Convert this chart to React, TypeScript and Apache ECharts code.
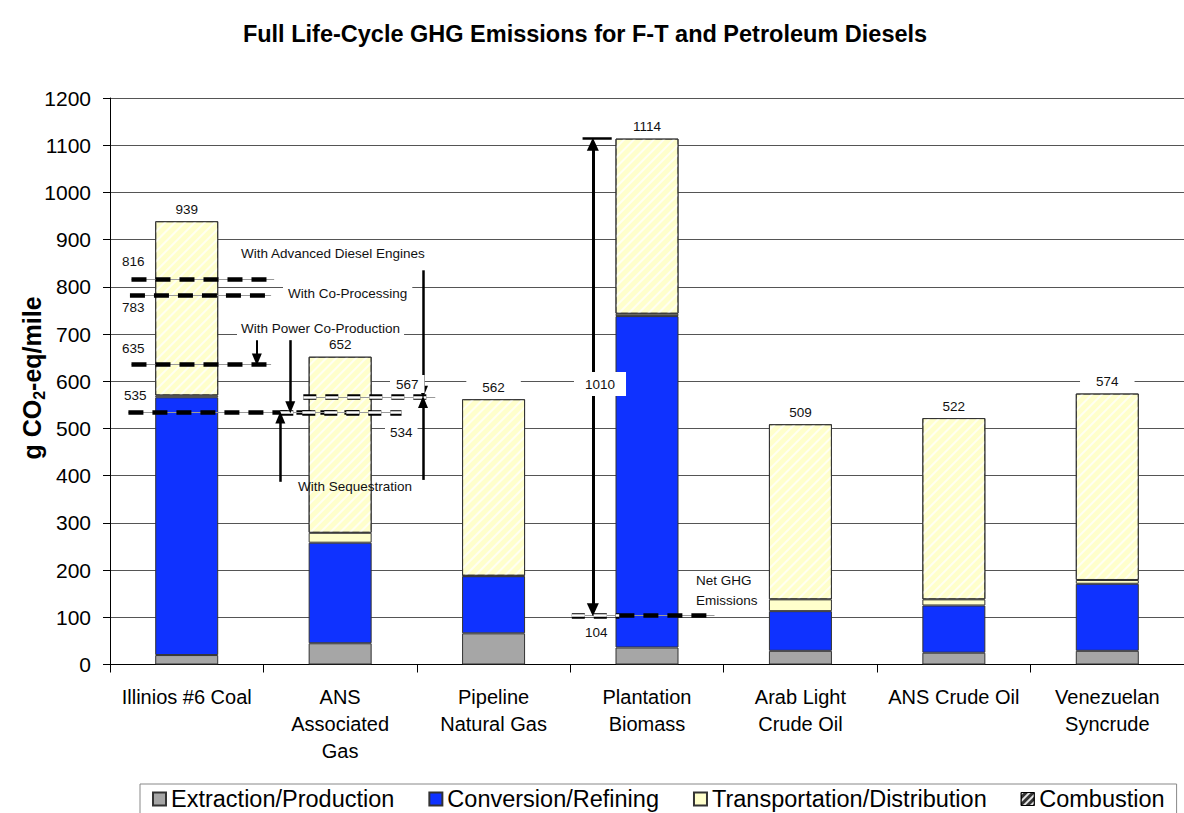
import React, { useEffect, useRef } from 'react';
import * as echarts from 'echarts';

const FONT = '"Liberation Sans", Arial, Helvetica, sans-serif';

// Categories (x axis)
const categories = [
  'Illinios #6 Coal',
  'ANS\nAssociated\nGas',
  'Pipeline\nNatural Gas',
  'Plantation\nBiomass',
  'Arab Light\nCrude Oil',
  'ANS Crude Oil',
  'Venezuelan\nSyncrude',
];

// Stacked components, g CO2-eq/mile
const extraction = [20, 45, 66, 36, 29, 25, 29];
const conversion = [546, 213, 121, 702, 84, 100, 142];
const transportation = [4, 21, 1, 5, 25, 13, 8];
const combustion = [369, 373, 374, 371, 371, 384, 395];

const seriesNames = [
  'Extraction/Production',
  'Conversion/Refining',
  'Transportation/Distribution',
  'Combustion',
];

// Y axis
const yMin = 0;
const yMax = 1200;
const yStep = 100;

// Annotation levels (g CO2-eq/mile)
const advancedEngines = 816;
const coProcessing = 783;
const powerCoProduction = 635;
const coalBaseline = 535;
const sequestration = 534;
const gasBaseline = 567;
const biomassNet = 104;
const biomassGross = 1114;
const biomassReduction = 1010;

const totals = extraction.map(
  (v, i) => v + conversion[i] + transportation[i] + combustion[i]
);

const BLACK_DASH = { color: '#000', width: 4.5, type: [15, 9], cap: 'butt' };
const GRAY_BASE = { color: '#9a9a9a', width: 1, type: 'solid' };
const OUTLINE_DASH = { color: '#000', width: 5.5, type: [13, 9], cap: 'butt' };
const OUTLINE_FILL = { color: '#fff', width: 2.5, type: [13, 9], cap: 'butt' };
const ARROW = { color: '#000', width: 2.5, type: 'solid' };
const HEAD = 11; // arrow head length in value units, so the tip meets the level

function seg(x1: number, y1: number, x2: number, y2: number, style: any, s1 = 'none', s2 = 'none', size: number[] = [10, 12]) {
  return [
    { coord: [x1, y1], symbol: s1, symbolSize: size, lineStyle: style },
    { coord: [x2, y2], symbol: s2, symbolSize: size },
  ];
}

function dashed(x1: number, x2: number, y: number) {
  return [seg(x1, y, x2, y, GRAY_BASE), seg(x1, y, x2, y, BLACK_DASH)];
}
function outlined(x1: number, x2: number, y: number) {
  return [seg(x1, y, x2, y, GRAY_BASE), seg(x1, y, x2, y, OUTLINE_DASH), seg(x1, y, x2, y, OUTLINE_FILL)];
}

function txt(text: string, x: number, y: number, extra: any = {}) {
  return {
    type: 'text',
    x,
    y,
    z: 100,
    silent: true,
    style: {
      text,
      fontSize: 13.5,
      fontFamily: FONT,
      fill: '#111',
      align: 'left',
      verticalAlign: 'middle',
      ...extra,
    },
  };
}

export default function App() {
  const ref = useRef<HTMLDivElement>(null);

  useEffect(() => {
    if (!ref.current) return;
    const chart = echarts.init(ref.current, undefined, { renderer: 'svg' });

    const barBorder = { borderColor: '#333', borderWidth: 1 };

    const markData: any[] = [
      ...dashed(0.14, 1.07, advancedEngines),
      ...dashed(0.13, 1.05, coProcessing),
      ...dashed(0.14, 1.05, powerCoProduction),
      ...dashed(0.12, 1.7, coalBaseline),
      ...outlined(1.11, 1.9, sequestration),
      ...outlined(1.26, 2.12, gasBaseline),
      ...outlined(3.01, 3.32, biomassNet),
      ...dashed(3.32, 3.94, biomassNet),
      // arrows
      seg(2.04, 835, 2.04, gasBaseline + HEAD, ARROW, 'none', 'triangle'),
      seg(2.04, 391, 2.04, gasBaseline - HEAD, ARROW, 'none', 'triangle'),
      seg(0.957, 687, 0.957, powerCoProduction + HEAD, { ...ARROW, width: 2 }, 'none', 'triangle'),
      seg(1.175, 687, 1.175, sequestration + HEAD, ARROW, 'none', 'triangle'),
      seg(1.11, 387, 1.11, sequestration - HEAD, ARROW, 'none', 'triangle'),
      seg(3.147, biomassGross - HEAD - 1, 3.147, biomassNet + HEAD + 1, { ...ARROW, width: 3 }, 'triangle', 'triangle', [12, 13]),
      seg(3.08, biomassGross, 3.27, biomassGross, { color: '#000', width: 2.5, type: 'solid' }),
    ];

    const option: any = {
      animation: false,
      backgroundColor: '#fff',
      textStyle: { fontFamily: FONT },
      title: {
        text: 'Full Life-Cycle GHG Emissions for F-T and Petroleum Diesels',
        left: 580,
        textAlign: 'center',
        top: 17,
        textStyle: { fontSize: 23.5, fontWeight: 'bold', color: '#000', fontFamily: FONT },
      },
      grid: { left: 110, right: -16, top: 98, bottom: 148.5, containLabel: false },
      legend: {
        left: 140,
        top: 784,
        padding: [3, 12, 12, 12],
        borderColor: '#888',
        borderWidth: 1,
        itemWidth: 13,
        itemHeight: 13,
        itemGap: 34,
        icon: 'rect',
        textStyle: { fontSize: 23.5, color: '#000', fontFamily: FONT },
        data: [
          seriesNames[0],
          seriesNames[1],
          seriesNames[2],
          {
            name: seriesNames[3],
            itemStyle: {
              color: '#333',
              borderColor: '#000',
              borderWidth: 1,
              decal: {
                symbol: 'rect',
                color: 'rgba(255,255,255,0.85)',
                dashArrayX: [1, 0],
                dashArrayY: [1.5, 2.5],
                rotation: -Math.PI / 4,
              },
            },
          },
        ],
      },
      xAxis: [
        {
          type: 'category',
          data: categories,
          axisLine: { lineStyle: { color: '#000', width: 1 } },
          axisTick: { show: true, length: 8, lineStyle: { color: '#000' } },
          axisLabel: {
            fontSize: 20,
            lineHeight: 27,
            margin: 19,
            color: '#000',
            fontFamily: FONT,
            interval: 0,
          },
        },
        {
          type: 'value',
          min: 0,
          max: 7,
          show: false,
          splitLine: { show: false },
        },
      ],
      yAxis: {
        type: 'value',
        min: yMin,
        max: yMax,
        interval: yStep,
        axisLine: { show: true, lineStyle: { color: '#000' } },
        axisTick: { show: true, length: 7, lineStyle: { color: '#000' } },
        axisLabel: {
          fontSize: 21,
          color: '#000',
          margin: 19,
          fontFamily: FONT,
          formatter: (v: number) => String(v),
        },
        splitLine: { show: true, lineStyle: { color: '#555', width: 1 } },
      },
      series: [
        {
          name: seriesNames[0],
          type: 'bar',
          stack: 'ghg',
          barWidth: 63,
          data: extraction,
          itemStyle: { color: '#A6A6A6', ...barBorder },
        },
        {
          name: seriesNames[1],
          type: 'bar',
          stack: 'ghg',
          barWidth: 63,
          data: conversion,
          itemStyle: { color: '#0F32FF', ...barBorder },
        },
        {
          name: seriesNames[2],
          type: 'bar',
          stack: 'ghg',
          barWidth: 63,
          data: transportation,
          itemStyle: { color: '#FFFFCC', ...barBorder },
        },
        {
          name: seriesNames[3],
          type: 'bar',
          stack: 'ghg',
          barWidth: 63,
          data: combustion,
          itemStyle: {
            color: '#FFFFCC',
            ...barBorder,
            decal: {
              symbol: 'rect',
              color: 'rgba(255,255,255,0.75)',
              dashArrayX: [1, 0],
              dashArrayY: [2, 5],
              rotation: -Math.PI / 4,
            },
          },
          label: {
            show: true,
            position: 'top',
            distance: 3,
            formatter: (p: any) => String(totals[p.dataIndex]),
            fontSize: 13.5,
            color: '#111',
            fontFamily: FONT,
            backgroundColor: '#fff',
            padding: [2, 16],
          },
        },
        {
          type: 'line',
          xAxisIndex: 1,
          yAxisIndex: 0,
          data: [],
          silent: true,
          z: 5,
          markLine: {
            silent: true,
            animation: false,
            symbol: ['none', 'none'],
            label: { show: false },
            z: 5,
            data: markData,
          },
        },
      ],
      graphic: [
        {
          type: 'text',
          x: 32,
          y: 378,
          rotation: Math.PI / 2,
          z: 100,
          style: {
            text: '{a|g CO}{s|2}{a|-eq/mile}',
            align: 'center',
            verticalAlign: 'middle',
            fill: '#000',
            rich: {
              a: { fontSize: 25, fontWeight: 'bold', fontFamily: FONT, lineHeight: 30, verticalAlign: 'middle', fill: '#000' },
              s: { fontSize: 16, fontWeight: 'bold', fontFamily: FONT, lineHeight: 16, verticalAlign: 'bottom', fill: '#000' },
            },
          },
        },
        txt(String(advancedEngines), 122, 261),
        txt(String(coProcessing), 122, 307),
        txt(String(powerCoProduction), 122, 348),
        txt(String(coalBaseline), 124, 395),
        txt('With Advanced Diesel Engines', 241, 253),
        txt('With Co-Processing', 283, 293, { backgroundColor: '#fff', padding: [2, 5] }),
        txt('With Power Co-Production', 237, 328, { backgroundColor: '#fff', padding: [2, 4] }),
        txt(String(gasBaseline), 390, 384, { backgroundColor: '#fff', padding: [2, 6] }),
        txt(String(sequestration), 385, 432, { backgroundColor: '#fff', padding: [2, 5] }),
        txt('With Sequestration', 298, 486),
        txt(String(biomassReduction), 600, 384, { align: 'center', backgroundColor: '#fff', padding: [5, 11] }),
        txt('Net GHG', 696, 580),
        txt('Emissions', 696, 600),
        txt(String(biomassNet), 585, 632),
      ],
    };

    chart.setOption(option);
    return () => chart.dispose();
  }, []);

  return (
    <div
      ref={ref}
      style={{ position: 'absolute', left: 0, top: 0, width: 1184, height: 813, background: '#fff' }}
    />
  );
}
